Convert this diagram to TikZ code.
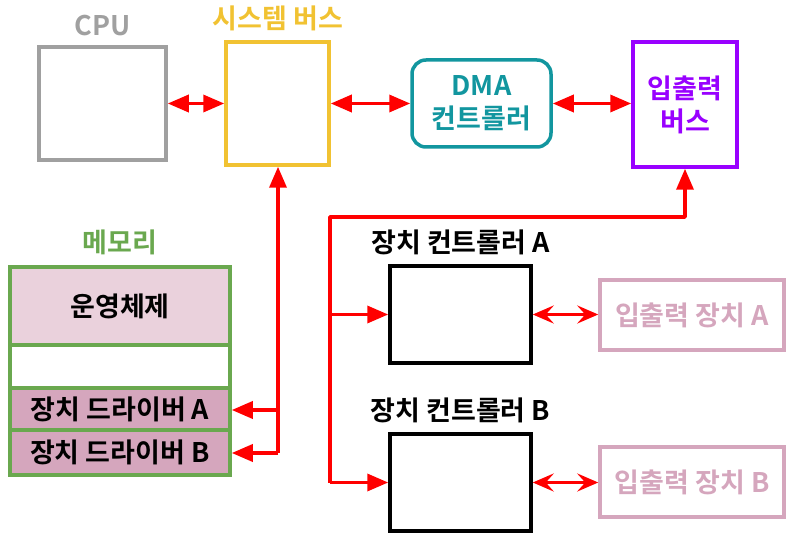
\documentclass[tikz,border=0pt]{standalone}
\usepackage{fontspec}
\setmainfont{Noto Sans CJK KR Bold}
\usetikzlibrary{arrows.meta}
\definecolor{cgray}{HTML}{A0A0A0}
\definecolor{cyellow}{HTML}{F1C232}
\definecolor{cteal}{HTML}{12969F}
\definecolor{cpurple}{HTML}{9900FF}
\definecolor{cgreen}{HTML}{6AA84F}
\definecolor{cosfill}{HTML}{EAD1DC}
\definecolor{cdrv}{HTML}{D5A6BD}
\definecolor{cred}{HTML}{FF0000}
\tikzset{
  box/.style={draw, line width=3.5pt, inner sep=0pt, font=\fontsize{27}{33}\selectfont, align=center},
  memcell/.style={box, draw=cgreen, minimum width=220pt},
  lbl/.style={font=\fontsize{27}{32}\selectfont, inner sep=0pt},
  bigarrow/.style={draw=cred, line width=3.5pt, {Triangle[length=21pt,width=17pt]}-{Triangle[length=21pt,width=17pt]}},
  onearrow/.style={draw=cred, line width=3.5pt, -{Triangle[length=21pt,width=17pt]}},
  smallarrow/.style={draw=cred, line width=3.5pt, {Stealth[length=21pt,width=18pt,inset=8pt]}-{Stealth[length=21pt,width=18pt,inset=8pt]}},
}
\begin{document}
\begin{tikzpicture}[x=1pt,y=-1pt]
\useasboundingbox (0,0) rectangle (790,537);
% top row
\node[box, draw=cgray, minimum width=127pt, minimum height=113pt] (cpu) at (102.5,103.5) {};
\node[lbl, text=cgray] (cpul) at (102.5,26) {CPU};
\node[box, draw=cyellow, minimum width=103pt, minimum height=123pt] (sys) at (277.5,103.5) {};
\node[lbl, text=cyellow] (sysl) at (278,18) {시스템 버스};
\node[box, draw=cteal, text=cteal, rounded corners=14pt, minimum width=139pt, minimum height=87pt] (dma) at (481.5,103.5) {DMA\\컨트롤러};
\node[box, draw=cpurple, text=cpurple, minimum width=104pt, minimum height=125pt] (iob) at (685,104.5) {입출력\\버스};
% controllers
\node[box, draw=black, minimum width=141pt, minimum height=97pt] (ca) at (460.5,314.5) {};
\node[lbl] (cal) at (460.5,242) {장치 컨트롤러 A};
\node[box, draw=black, minimum width=141pt, minimum height=97pt] (cb) at (460.5,482.5) {};
\node[lbl] (cbl) at (460.5,410) {장치 컨트롤러 B};
% devices
\node[box, draw=cdrv, text=cdrv, minimum width=184pt, minimum height=70pt] (da) at (692,315) {입출력 장치 A};
\node[box, draw=cdrv, text=cdrv, minimum width=184pt, minimum height=70pt] (db) at (692,482) {입출력 장치 B};
% memory
\node[lbl, text=cgreen] (meml) at (120,242) {메모리};
\node[memcell, fill=cosfill, minimum height=78pt] (os) at (120,306) {운영체제};
\node[memcell, fill=white, minimum height=43pt] (emp) at (120,366.5) {};
\node[memcell, fill=cdrv, minimum height=42pt] (drva) at (120,409) {장치 드라이버 A};
\node[memcell, fill=cdrv, minimum height=45pt] (drvb) at (120,452.5) {장치 드라이버 B};
% top arrows
\draw[bigarrow] (cpu.east) -- (sys.west);
\draw[bigarrow] (sys.east) -- (dma.west);
\draw[bigarrow] (dma.east) -- (iob.west |- dma.east);
% system bus to memory
\coordinate (sv) at (278,453);
\coordinate (sa) at (278,410);
\draw[onearrow] (sv) -- (sys.south -| sv);
\draw[onearrow] (sa) -- (drva.east |- sa);
\draw[onearrow] (sv) -- (drvb.east |- sv);
% io bus to controllers
\coordinate (vb) at (330,482.5);
\coordinate (va) at (330,314.5);
\coordinate (vt) at (330,217);
\draw[onearrow, line join=round] (vb) -- (vt) -| (iob.south);
\draw[onearrow] (va) -- (ca.west);
\draw[onearrow] (vb) -- (cb.west);
% controllers to devices
\draw[smallarrow] (ca.east) -- (da.west |- ca.east);
\draw[smallarrow] (cb.east) -- (db.west |- cb.east);
\end{tikzpicture}
\end{document}
